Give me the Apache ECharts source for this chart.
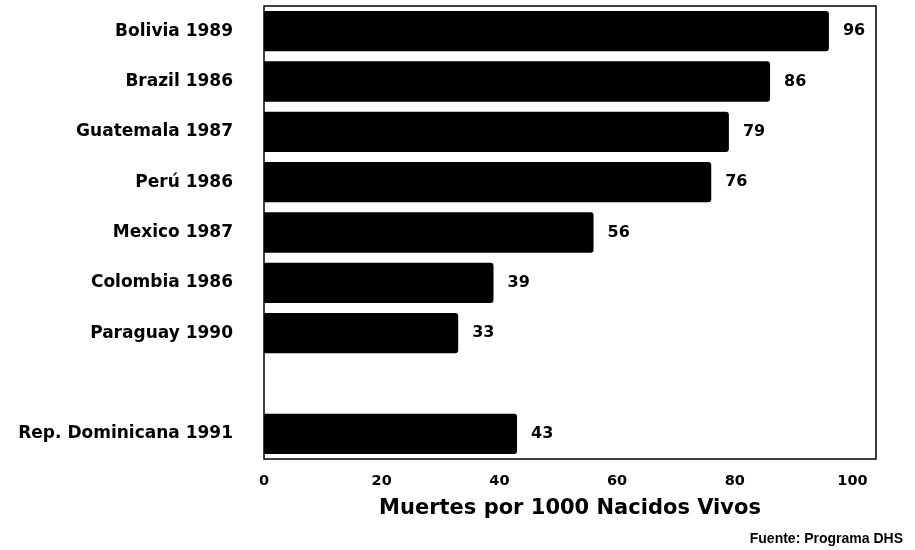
<!DOCTYPE html>
<html>
<head>
<meta charset="utf-8">
<script src="https://cdn.jsdelivr.net/npm/echarts@6/dist/echarts.min.js"></script>
<style>
html, body { margin: 0; padding: 0; background: #fff; }
#chart { width: 915px; height: 550px; }
</style>
</head>
<body>
<div id="chart"></div>
<script>
// paises (el hueco vacio separa a Rep. Dominicana)
var paises = ['Bolivia 1989', 'Brazil 1986', 'Guatemala 1987', 'Perú 1986', 'Mexico 1987',
    'Colombia 1986', 'Paraguay 1990', '', 'Rep. Dominicana 1991'];
// muertes por 1000 nacidos vivos
var mortalidad = [96, 86, 79, 76, 56, 39, 33, null, 43];
// marcas del eje x
var ticksX = [0, 20, 40, 60, 80, 100];

var fuente = 'DejaVu Sans';

var chart = echarts.init(document.getElementById('chart'));
chart.setOption({
    animation: false,
    backgroundColor: '#fff',
    title: {
        text: 'Fuente: Programa DHS',
        right: 7,
        top: 527,
        textStyle: {
            fontFamily: 'Liberation Sans',
            fontWeight: 'bold',
            fontSize: 14,
            color: '#000'
        }
    },
    grid: {
        left: 264,
        right: 39,
        top: 6,
        bottom: 91,
        show: true,
        borderColor: '#000',
        borderWidth: 1.5,
        backgroundColor: 'transparent'
    },
    xAxis: {
        type: 'value',
        min: 0,
        max: 104,
        interval: 20,
        name: 'Muertes por 1000 Nacidos Vivos',
        nameLocation: 'middle',
        nameGap: 39,
        nameTextStyle: {
            fontFamily: fuente,
            fontWeight: 'bold',
            fontSize: 21,
            color: '#000'
        },
        axisLine: { show: false },
        axisTick: { show: false },
        splitLine: { show: false },
        axisLabel: {
            margin: 15,
            fontFamily: fuente,
            fontWeight: 'bold',
            fontSize: 14.5,
            color: '#000',
            formatter: function (v) {
                return ticksX.indexOf(v) >= 0 ? String(v) : '';
            }
        }
    },
    yAxis: {
        type: 'category',
        inverse: true,
        data: paises,
        axisLine: { show: false },
        axisTick: { show: false },
        splitLine: { show: false },
        axisLabel: {
            margin: 31,
            fontFamily: fuente,
            fontWeight: 'bold',
            fontSize: 17,
            color: '#000'
        }
    },
    series: [{
        type: 'bar',
        data: mortalidad,
        barCategoryGap: '20%',
        itemStyle: {
            color: '#000',
            borderRadius: [0, 3, 3, 0]
        },
        label: {
            show: true,
            position: 'right',
            distance: 14,
            fontFamily: fuente,
            fontWeight: 'bold',
            fontSize: 16,
            color: '#000'
        }
    }]
});
</script>
</body>
</html>
